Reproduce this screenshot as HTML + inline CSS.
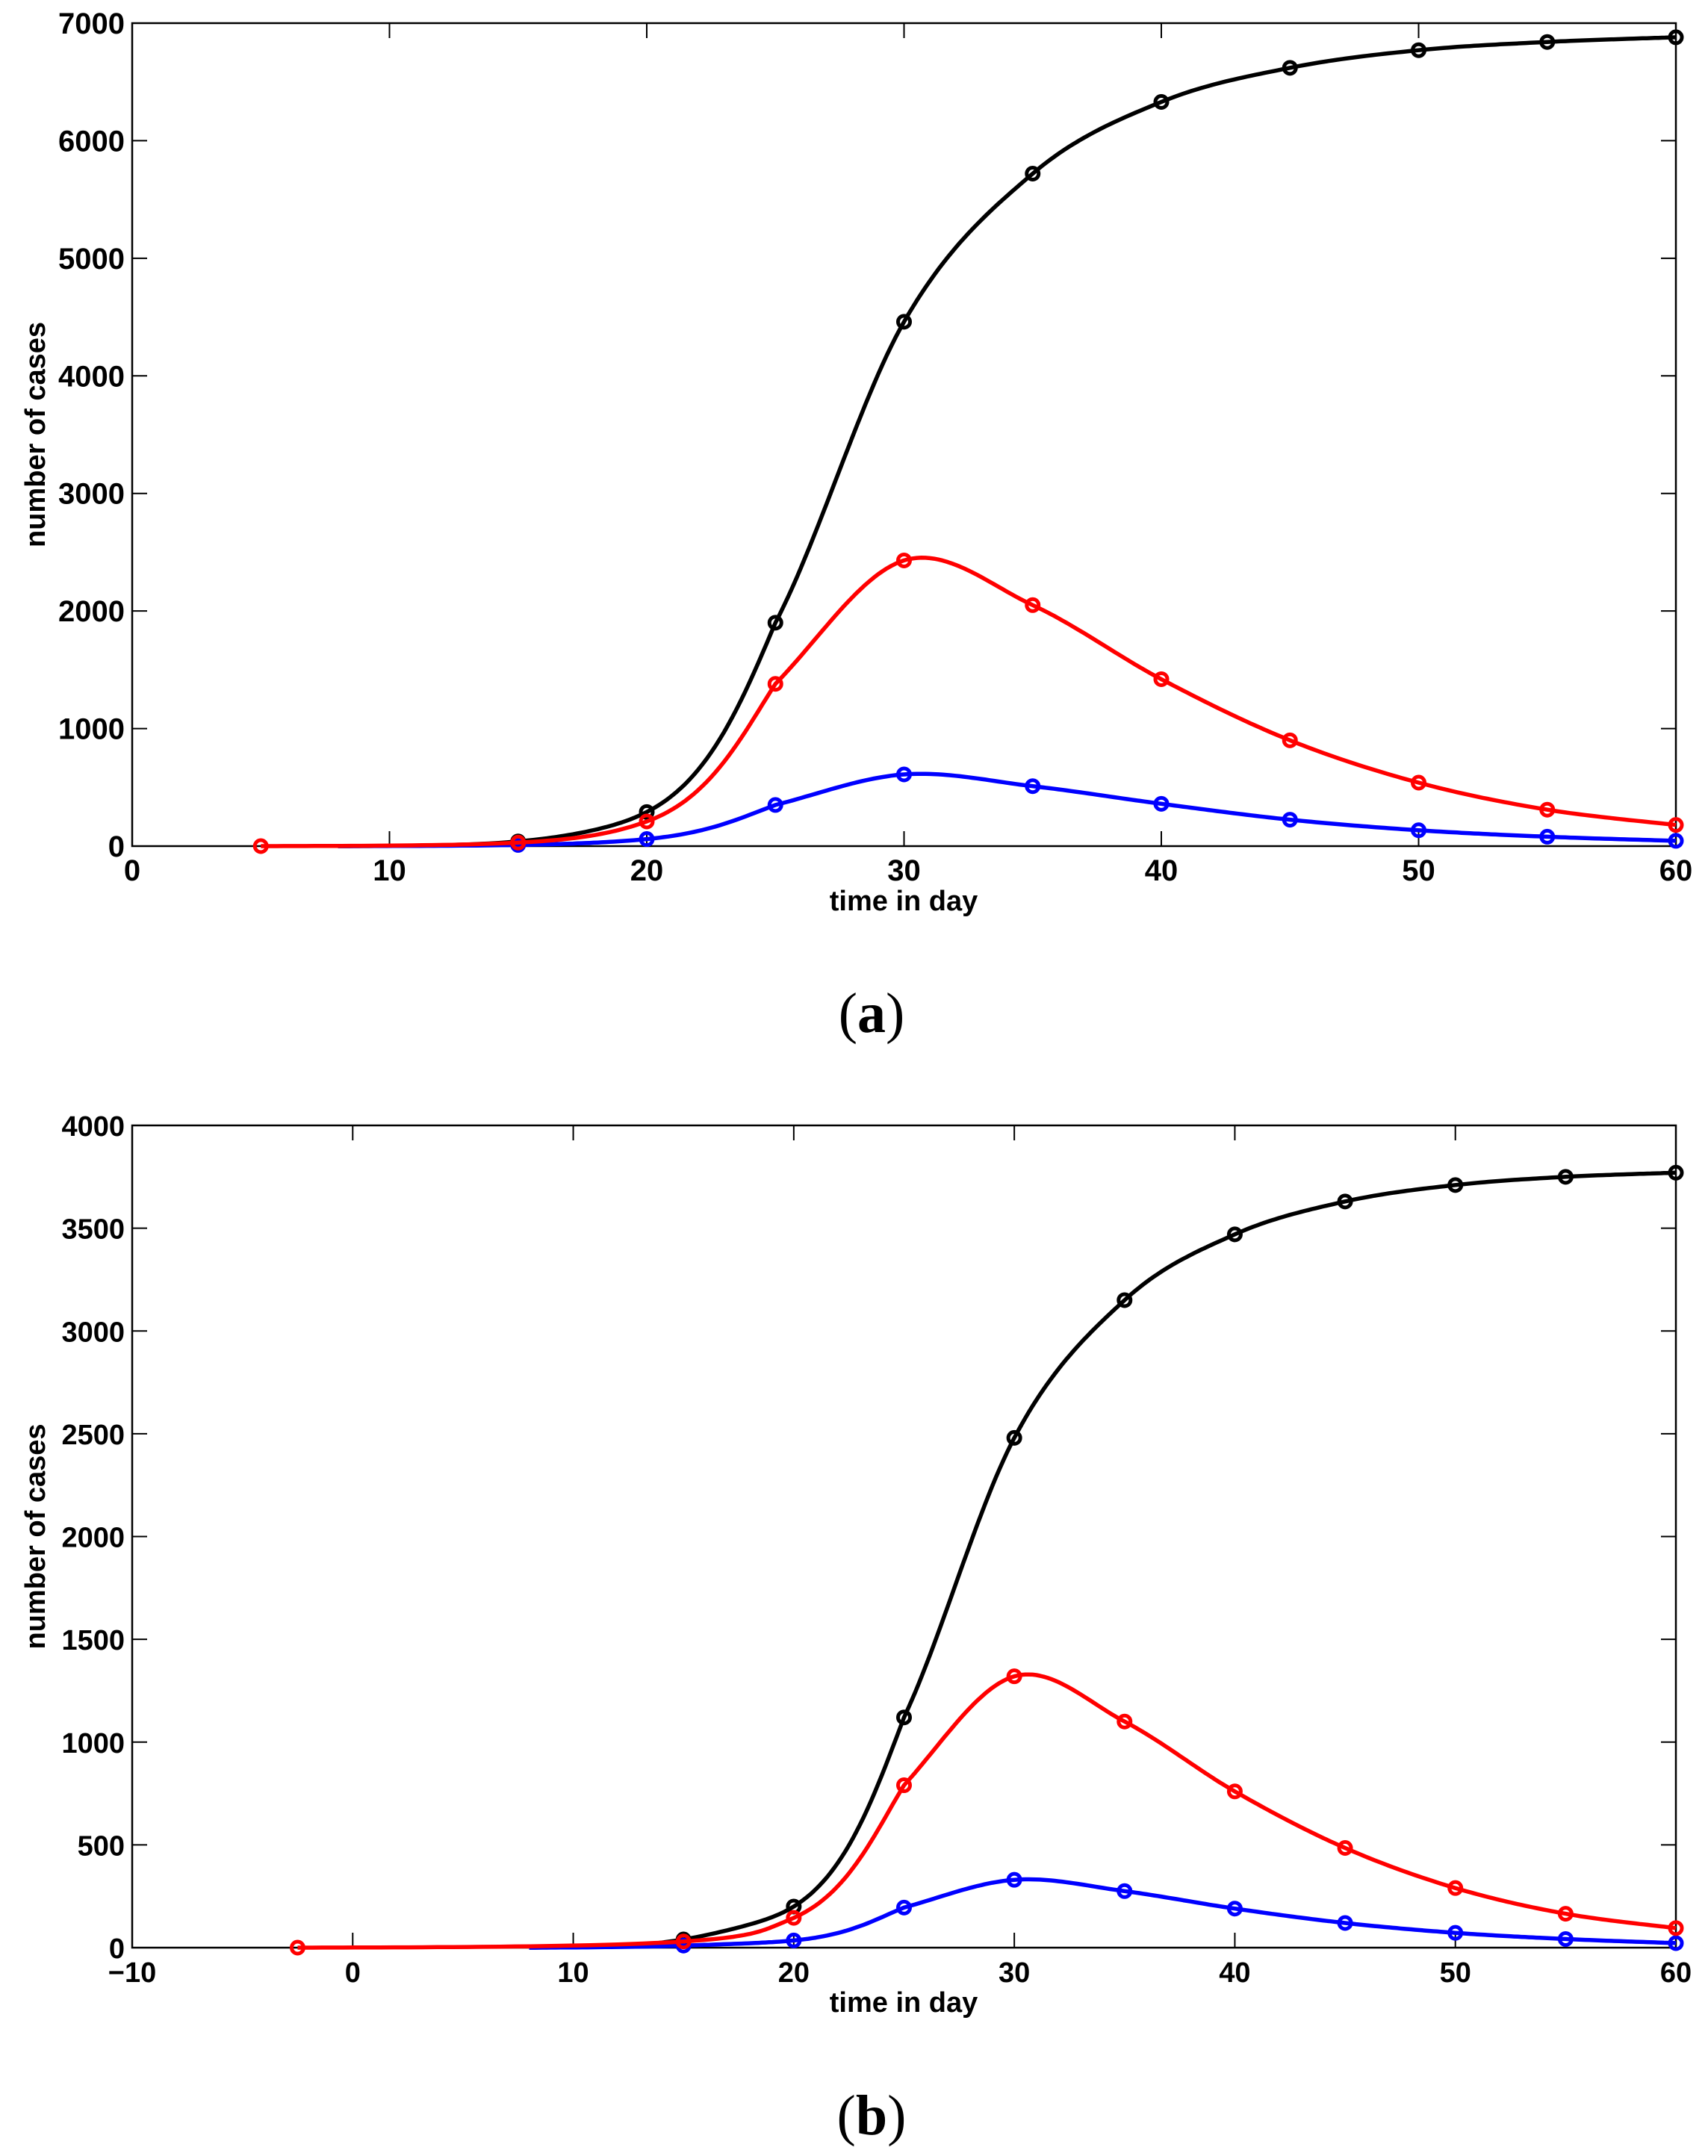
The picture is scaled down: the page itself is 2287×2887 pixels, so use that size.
<!DOCTYPE html>
<html><head><meta charset="utf-8"><style>
html,body{margin:0;padding:0;background:#fff;}
svg{display:block;}
text{font-family:"Liberation Sans",Arial,sans-serif;font-weight:bold;fill:#000;}
</style></head><body>
<svg id="fig" width="2287" height="2887" viewBox="0 0 2287 2887" xmlns="http://www.w3.org/2000/svg"></svg>
<script>
// Panel (a) data
const aDays = [15,20,25,30,35,40,45,50,55,60];
const aTotal = [40,290,1900,4460,5720,6330,6620,6770,6840,6880];
const aInfected = [30,210,1380,2430,2050,1420,900,540,310,180];
const aThird = [10,60,350,610,510,360,225,135,80,45];
const aInfectedStartDay = 5;
const aYTicks = [0,1000,2000,3000,4000,5000,6000,7000];
const aXTicks = [0,10,20,30,40,50,60];
// Panel (b) data
const bDays = [15,20,25,30,35,40,45,50,55,60];
const bTotal = [40,200,1120,2480,3150,3470,3630,3710,3750,3770];
const bInfected = [30,145,790,1320,1100,760,485,290,165,95];
const bThird = [10,35,195,330,275,190,120,72,42,22];
const bInfectedStartDay = -2.5;
const bYTicks = [0,500,1000,1500,2000,2500,3000,3500,4000];
const bXTicks = [-10,0,10,20,30,40,50,60];

const NS='http://www.w3.org/2000/svg';
const svg=document.getElementById('fig');
function mk(tag,attrs,parent){const e=document.createElementNS(NS,tag);for(const k in attrs)e.setAttribute(k,attrs[k]);(parent||svg).appendChild(e);return e;}

// Catmull-Rom: early growth segments (ending <= day 25) in log space, rest in linear space
function curvePath(days,vals,xs,ys){
  const PL=days.map((d,i)=>[d,Math.log(vals[i]+1)]);
  const P=days.map((d,i)=>[d,vals[i]]);
  let d='';
  for(let i=0;i<P.length-1;i++){
    const useLog=days[i+1]<=25;
    const Q=useLog?PL:P;
    const p0=Q[Math.max(0,i-1)],p1=Q[i],p2=Q[i+1],p3=Q[Math.min(Q.length-1,i+2)];
    const N=30;
    for(let k=(i===0?0:1);k<=N;k++){
      const t=k/N,t2=t*t,t3=t2*t;
      const f=(a,b,c,e)=>0.5*((2*b)+(-a+c)*t+(2*a-5*b+4*c-e)*t2+(-a+3*b-3*c+e)*t3);
      const x=f(p0[0],p1[0],p2[0],p3[0]);
      const yv=f(p0[1],p1[1],p2[1],p3[1]);
      const v=useLog?Math.max(0,Math.exp(yv)-1):yv;
      d+=(d?'L':'M')+xs(x).toFixed(1)+','+ys(v).toFixed(1);
    }
  }
  return d;
}

function panel(cfg){
  const g=mk('g',{});
  
  
  const L=177,R=2244,T=cfg.top,B=cfg.bottom;
  const xs=v=>L+(v-cfg.xmin)/(cfg.xmax-cfg.xmin)*(R-L);
  const ys=v=>B-(v-cfg.ymin)/(cfg.ymax-cfg.ymin)*(B-T);
  const frame=mk('rect',{x:L,y:T,width:R-L,height:B-T,fill:'none',stroke:'#000','stroke-width':2.5},g);
  
  
  cfg.xticks.forEach(t=>{
    const x=xs(t);
    const tk=mk('path',{d:`M${x},${B}v-20M${x},${T}v20`,stroke:'#000','stroke-width':2},g);
    
    
    const lb=mk('text',{x:x,y:B+46,'font-size':cfg.fs,'text-anchor':'middle'},g);
    lb.textContent=t<0?'\u2212'+(-t):String(t);
    
    
  });
  cfg.yticks.forEach(t=>{
    const y=ys(t);
    const tk=mk('path',{d:`M${L},${y}h20M${R},${y}h-20`,stroke:'#000','stroke-width':2},g);
    
    
    const lb=mk('text',{x:L-10,y:y+14,'font-size':cfg.fs,'text-anchor':'end'},g);
    lb.textContent=String(t);
    
    
  });
  const xt=mk('text',{x:1210,y:B+86,'font-size':38,'text-anchor':'middle'},g);
  xt.textContent='time in day';
  
  
  const cy=(T+B)/2;
  const yt=mk('text',{x:60,y:cy,'font-size':38,'text-anchor':'middle',transform:`rotate(-90 60 ${cy})`},g);
  yt.textContent='number of cases';
  
  
  cfg.series.forEach(s=>{
    const start=s.start!==undefined?s.start:8;
    const days=[start].concat(s.days), vals=[0].concat(s.vals);
    const p=mk('path',{d:curvePath(days,vals,xs,ys),fill:'none',stroke:s.color,'stroke-width':5.5,'stroke-linejoin':'round'},g);
    
    
    const mpts=s.start!==undefined?[[s.start,0]]:[];
    s.days.forEach((d,i)=>mpts.push([d,s.vals[i]]));
    mpts.forEach(m=>{
      const c=mk('circle',{cx:xs(m[0]),cy:ys(m[1]),r:8,fill:'none',stroke:s.color,'stroke-width':5},g);
      
      
    });
  });
  const cap=mk('text',{x:1167,y:cfg.capY,'font-size':76,'text-anchor':'middle',style:'font-family:"Liberation Serif",serif;font-weight:normal'},g);
  cap.innerHTML='(<tspan font-weight="bold">'+cfg.cap+'</tspan>)';
  
  
}

panel({name:'panel-a',top:31,bottom:1133,xmin:0,xmax:60,ymin:0,ymax:7000,xticks:aXTicks,yticks:aYTicks,fs:40,capY:1382,cap:'a',
  series:[
    {name:'total-cases',color:'#000',days:aDays,vals:aTotal},
    {name:'third-series',color:'#0000ff',days:aDays,vals:aThird},
    {name:'infected',color:'#ff0000',days:aDays,vals:aInfected,start:aInfectedStartDay}
  ]});
panel({name:'panel-b',top:1507,bottom:2608,xmin:-10,xmax:60,ymin:0,ymax:4000,xticks:bXTicks,yticks:bYTicks,fs:38,capY:2858,cap:'b',
  series:[
    {name:'total-cases',color:'#000',days:bDays,vals:bTotal},
    {name:'third-series',color:'#0000ff',days:bDays,vals:bThird},
    {name:'infected',color:'#ff0000',days:bDays,vals:bInfected,start:bInfectedStartDay}
  ]});
</script>
</body></html>
